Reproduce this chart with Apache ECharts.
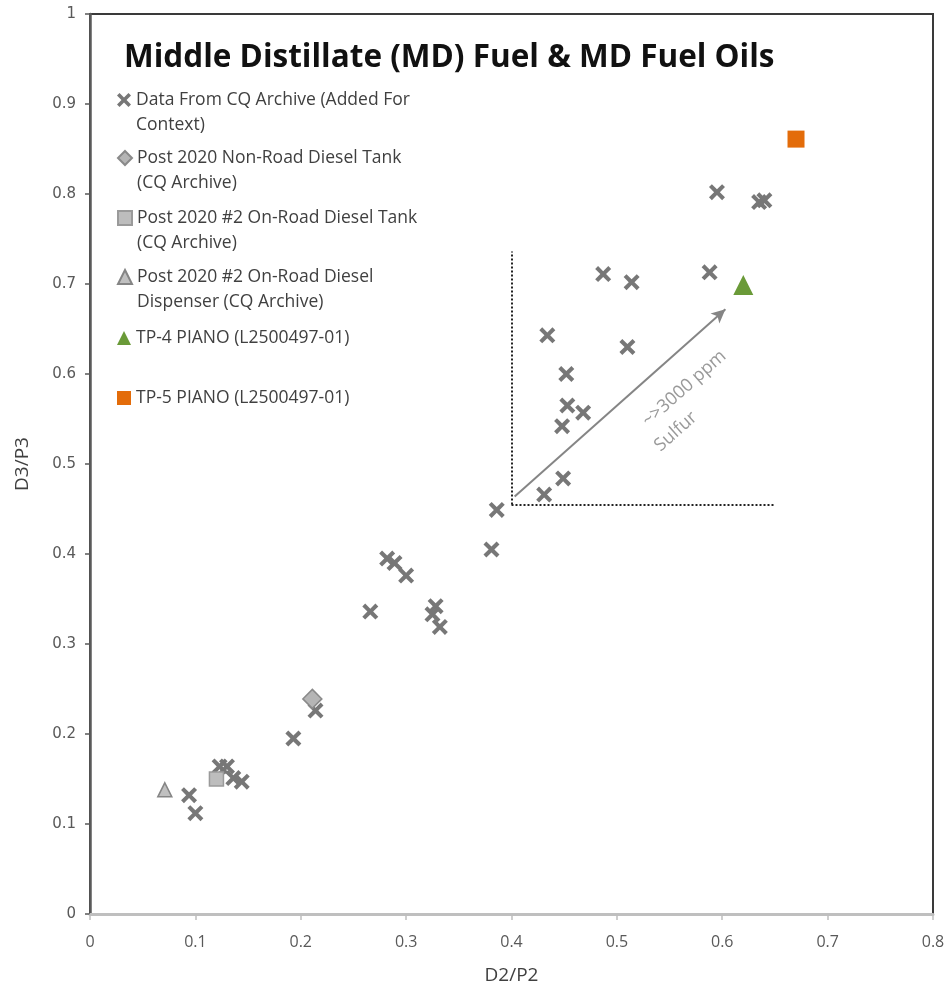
<!DOCTYPE html>
<html>
<head>
<meta charset="utf-8">
<script src="https://cdn.jsdelivr.net/npm/echarts@6/dist/echarts.min.js"></script>
<style>html,body{margin:0;padding:0;background:#fff}#c{width:951px;height:998px}</style>
</head>
<body>
<div id="c"></div>
<script>
// ---- data ----
const archiveData = [
  [0.094,0.132],[0.100,0.112],[0.123,0.164],[0.130,0.164],[0.136,0.151],[0.144,0.147],
  [0.193,0.195],[0.214,0.226],[0.266,0.336],[0.282,0.395],[0.289,0.390],[0.300,0.376],
  [0.328,0.342],[0.325,0.333],[0.332,0.319],[0.381,0.405],[0.386,0.449],[0.431,0.466],
  [0.449,0.484],[0.448,0.542],[0.453,0.565],[0.468,0.557],[0.452,0.600],[0.434,0.643],
  [0.510,0.630],[0.487,0.711],[0.514,0.702],[0.588,0.713],[0.595,0.802],[0.635,0.791],
  [0.640,0.793]
];
const nonRoadTank = [[0.211,0.239]];
const onRoadTank = [[0.120,0.150]];
const onRoadDispenser = [[0.071,0.138]];
const tp4 = [[0.620,0.699]];
const tp5 = [[0.670,0.861]];
const xTicks = [0,0.1,0.2,0.3,0.4,0.5,0.6,0.7,0.8];
const yTicks = [0,0.1,0.2,0.3,0.4,0.5,0.6,0.7,0.8,0.9,1];
const boxVertical = [[0.4,0.455],[0.4,0.736]];
const boxHorizontal = [[0.4,0.455],[0.65,0.455]];
const arrowLine = [[0.403,0.464],[0.603,0.672]];
const annotLabels = [
  {value:[0.564,0.584], text:'~>3000 ppm'},
  {value:[0.556,0.536], text:'Sulfur'}
];
const names = [
  'Data From CQ Archive (Added For\nContext)',
  'Post 2020 Non-Road Diesel Tank\n(CQ Archive)',
  'Post 2020 #2 On-Road Diesel Tank\n(CQ Archive)',
  'Post 2020 #2 On-Road Diesel\nDispenser (CQ Archive)',
  'TP-4 PIANO (L2500497-01)',
  'TP-5 PIANO (L2500497-01)'
];
const legendY = [100,158,218,277,338,398];

// ---- chart ----
const crossPath = 'path://M0,1.8L1.8,0L5,3.2L8.2,0L10,1.8L6.8,5L10,8.2L8.2,10L5,6.8L1.8,10L0,8.2L3.2,5Z';
const icons = [crossPath,'diamond','rect','triangle','triangle','rect'];
const chart = echarts.init(document.getElementById('c'));

const legends = names.map((n,i)=>{
  const two = n.indexOf('\n')>=0;
  return {
    data:[{name:n, icon:icons[i]}],
    left:117,
    top: legendY[i] - (two ? 37.5 : 12.5),
    padding:0,
    itemWidth:14, itemHeight:14,
    selectedMode:false,
    formatter: nm => two ? '\n' + nm : nm,
    textStyle:{fontFamily:'Open Sans', fontSize:17.5, color:'#404040', lineHeight:25}
  };
});

chart.setOption({
  animation:false,
  backgroundColor:'#fff',
  title:{text:'Middle Distillate (MD) Fuel & MD Fuel Oils', left:119, top:37,
    textStyle:{fontFamily:'Open Sans', fontWeight:'bold', fontSize:31.5, color:'#111'}},
  legend: legends,
  grid:{left:90, right:18, top:14, bottom:84, show:true, borderColor:'#3a3a3a', borderWidth:2},
  xAxis:{type:'value', min:0, max:0.8, interval:0.1,
    name:'D2/P2', nameLocation:'middle', nameGap:52,
    nameTextStyle:{fontFamily:'Open Sans', fontSize:19, color:'#404040'},
    axisLine:{show:true, lineStyle:{color:'#bfbfbf', width:3}},
    axisTick:{show:true, length:6, lineStyle:{color:'#bfbfbf', width:1.5}},
    axisLabel:{margin:20, fontFamily:'Open Sans', fontSize:16, color:'#595959',
      formatter:v=>{const t=xTicks.find(x=>Math.abs(x-v)<1e-9); return t===undefined?'':String(t);}},
    splitLine:{show:false}},
  yAxis:{type:'value', min:0, max:1, interval:0.1,
    name:'D3/P3', nameLocation:'middle', nameGap:58,
    nameTextStyle:{fontFamily:'Open Sans', fontSize:19, color:'#404040'},
    axisLine:{show:true, lineStyle:{color:'#5a5a5a', width:2.5}},
    axisTick:{show:true, length:5, lineStyle:{color:'#5a5a5a', width:1.5}},
    axisLabel:{margin:14, fontFamily:'DejaVu Sans', fontSize:15, color:'#595959',
      formatter:v=>{const t=yTicks.find(x=>Math.abs(x-v)<1e-9); return t===undefined?'':String(t);}},
    splitLine:{show:false}},
  series:[
    {name:names[0], type:'scatter', data:archiveData, symbol:crossPath, symbolSize:16,
      itemStyle:{color:'#777777', opacity:1}, z:3,
      markLine:{silent:true, symbol:['none','none'], label:{show:false},
        lineStyle:{type:'dotted', color:'#222', width:2, opacity:1},
        data:[
          [{coord:boxVertical[0]},{coord:boxVertical[1]}],
          [{coord:boxHorizontal[0]},{coord:boxHorizontal[1]}]
        ]}},
    {name:names[1], type:'scatter', data:nonRoadTank, symbol:'diamond', symbolSize:19,
      itemStyle:{color:'#b5b5b5', borderColor:'#8a8a8a', borderWidth:1.5, opacity:1}, z:4},
    {name:names[2], type:'scatter', data:onRoadTank, symbol:'rect', symbolSize:14,
      itemStyle:{color:'#bdbdbd', borderColor:'#9a9a9a', borderWidth:1.5, opacity:1}, z:4},
    {name:names[3], type:'scatter', data:onRoadDispenser, symbol:'triangle', symbolSize:14,
      itemStyle:{color:'#c0c0c0', borderColor:'#858585', borderWidth:1.5, opacity:1}, z:4},
    {name:names[4], type:'scatter', data:tp4, symbol:'triangle', symbolSize:20,
      itemStyle:{color:'#6a9a38', opacity:1}, z:4,
      markLine:{silent:true, symbol:['none','arrow'], symbolSize:[10,14], label:{show:false},
        lineStyle:{type:'solid', color:'#858585', width:2, opacity:1},
        data:[[{coord:arrowLine[0]},{coord:arrowLine[1]}]]}},
    {name:names[5], type:'scatter', data:tp5, symbol:'rect', symbolSize:17,
      itemStyle:{color:'#e36c0a', opacity:1}, z:4},
    {type:'scatter', data:annotLabels, symbolSize:0, silent:true, z:5,
      label:{show:true, position:'inside', rotate:41.5,
        formatter:p=>p.data.text, fontFamily:'Open Sans', fontSize:18, color:'#808080'}}
  ]
});
</script>
</body>
</html>
